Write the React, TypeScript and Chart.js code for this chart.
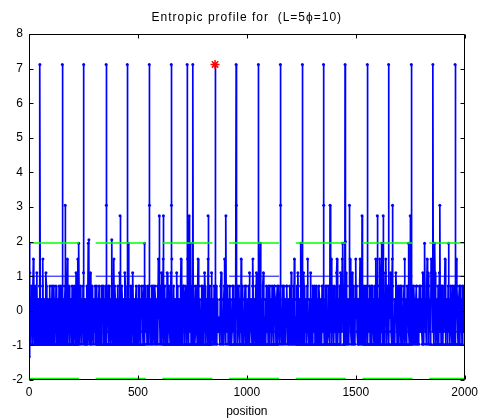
import React, { useEffect, useRef } from 'react';
import { Chart, registerables } from 'chart.js';

Chart.register(...registerables);

const titleText = 'Entropic profile for  (L=5\u03D5=10)';
const xLabel = 'position';
const xTicks = [0, 500, 1000, 1500, 2000];
const yTicks = [-2, -1, 0, 1, 2, 3, 4, 5, 6, 7, 8];

// level codes used in the dense band
const levelCodes = ['z', 'a', 'b', 'c', 'd', 'e', 'f', 'g', 'h'];
const levelValues = [-1.33, -0.97, -0.6, -0.2, 0.33, 0.72, 1.1, 1.5, 1.95];

// each row spans 200 positions
const bandRows = [
  'zhfadbecadgdbaedacfadbdaedacbdaegbadcadfeadbacdaeb' + 'dacebdaecadbeadcdabedcaedbaecdbadecabdgadcebadcdae',
  'adcaedbafadcgahdbaedcadbefadcadbaeadhcbdafdacedbad' + 'cbeadecadbdeacbdaecdeabdcaedbadceaedbcadebadcgaedb',
  'cadbeadcfadbaedacdbafeadbadchadcaedbaefdacbdadecab' + 'daeecbadcedbadecaebdcadebaecdabdeacedbaedcabdeagcd',
  'daecfadbgadceadbafdacedbadfcgadbeadcadbfaecdabdaeg' + 'bdaceedbaecdabgdcaebdhacdebaedcabedcadgbeadcbaedce',
  'adbfecadbdagcadeadbfacdbaedcabeadcbbcbadefadbcadeg' + 'cdabedeacdbeadcabedecadbaedceabdecadbgcaedbacdeaeb',
  'cadbeafadcdbaegdadcbeafdacdbaedhcadbaefdacbdaedbca' + 'edaecbdaecdbaeedcabdeacedbadecabedaecbdadeecabdaec',
  'dafcadbeagdacbdeafdbcadehadcbafeadcbdaegdbacdafcbd' + 'aecbdeadcebadcaedbacdaebedcadbeaceaabecdadbgaecdb',
  'aedbcafgdacbdeafdbcgheadbcadfeadbcadegdbacfdaebcad' + 'gcebdadcaegbdacdebaecdabecdeadbceadbeaecdbadecgadb',
  'beadcgfadbhdaecadbfgdaecdbaedcfbadgeacbdadfecadbea' + 'cdebaedcabdegacdbaecdhbadcebadecaedbcadeeabdcaedbe',
  'cdbafeadhdbcaegdfaecbdagfdebcadhfeadcbaedafcbdaece' + 'adbcegadbdcaehbdacedbaecdaebdcagedbacdeaebdcaedbce',
];

// tall peaks (position, value)
const peakPositions = [
  50, 153, 251, 354, 451, 552, 653, 726, 752, 854, 951, 1053, 1154, 1255, 1352, 1451, 1553, 1651, 1755, 1854, 1956,
  166, 355, 553, 654, 952, 1155, 1353, 1382, 1471, 1669, 1886,
  418, 598, 617, 735, 822, 904, 1529, 1599, 1626, 1750,
  275, 380, 530, 1452,
];
const peakValues = [
  7.12, 7.12, 7.12, 7.12, 7.12, 7.12, 7.12, 7.12, 7.12, 7.12, 7.12, 7.12, 7.12, 7.12, 7.12, 7.12, 7.12, 7.12, 7.12, 7.12, 7.12,
  3.05, 3.05, 3.05, 3.05, 3.05, 3.05, 3.05, 3.05, 3.05, 3.05, 3.05,
  2.75, 2.75, 2.75, 2.75, 2.75, 2.75, 2.75, 2.75, 2.75, 2.75,
  2.05, 2.05, 1.95, 2.0,
];

const markerPosition = 854;
const markerValue = 7.12;

const greenLevels = [1.96, -1.96];
const blueLevels = [1, -1];

function buildPoints() {
  const pts: { x: number; y: number }[] = [];
  bandRows.forEach((row, r) => {
    for (let j = 0; j < row.length; j++) {
      pts.push({ x: r * 200 + (j * 200) / row.length, y: levelValues[levelCodes.indexOf(row[j])] });
    }
  });
  peakPositions.forEach((p, i) => pts.push({ x: p, y: peakValues[i] }));
  pts.sort((a, b) => a.x - b.x);
  return pts;
}

const FONT = '"Liberation Sans", Arial, Helvetica, sans-serif';

const framePlugin = {
  id: 'frame',
  afterDatasetsDraw(chart: any) {
    const { ctx, chartArea } = chart;
    const { left, right, top, bottom } = chartArea;
    const xs = chart.scales.x;
    const ys = chart.scales.y;
    ctx.save();
    ctx.strokeStyle = '#000';
    ctx.lineWidth = 1;
    const L = Math.round(left) + 0.5;
    const R = Math.round(right) - 0.5;
    const T = Math.round(top) + 0.5;
    const B = Math.round(bottom) - 0.5;
    ctx.beginPath();
    ctx.rect(L, T, R - L, B - T);
    const tl = 4;
    xTicks.forEach((v) => {
      const px = Math.round(xs.getPixelForValue(v)) + 0.5;
      ctx.moveTo(px, B);
      ctx.lineTo(px, B - tl);
      ctx.moveTo(px, T);
      ctx.lineTo(px, T + tl);
    });
    yTicks.forEach((v) => {
      const py = Math.round(ys.getPixelForValue(v)) + 0.5;
      ctx.moveTo(L, py);
      ctx.lineTo(L + tl, py);
      ctx.moveTo(R, py);
      ctx.lineTo(R - tl, py);
    });
    ctx.stroke();
    ctx.restore();
  },
  afterDraw(chart: any) {
    const { ctx, chartArea } = chart;
    ctx.save();
    ctx.fillStyle = '#000';
    ctx.font = '12px ' + FONT;
    (ctx as any).letterSpacing = '1px';
    ctx.textAlign = 'center';
    ctx.textBaseline = 'middle';
    ctx.fillText(titleText, (chartArea.left + chartArea.right) / 2, 17.5);
    ctx.restore();
  },
};

export default function App() {
  const ref = useRef<HTMLCanvasElement | null>(null);
  useEffect(() => {
    document.body.style.margin = '0';
    const canvas = ref.current;
    if (!canvas) return;
    const points = buildPoints();
    const hLine = (yv: number) => [
      { x: xTicks[0], y: yv },
      { x: xTicks[xTicks.length - 1], y: yv },
    ];
    const dash = [50, 16.7];
    const chart = new Chart(canvas, {
      type: 'line',
      data: {
        datasets: [
          {
            label: 'max',
            data: [{ x: markerPosition, y: markerValue }],
            showLine: false,
            pointStyle: 'star',
            pointRadius: 4.5,
            borderColor: '#ff0000',
            backgroundColor: '#ff0000',
            pointBorderWidth: 1.5,
          },
          ...greenLevels.map((g) => ({
            label: 'g' + g,
            data: hLine(g),
            borderColor: '#00ff00',
            borderWidth: 1.5,
            borderDash: dash,
            pointRadius: 0,
          })),
          ...blueLevels.map((b) => ({
            label: 'b' + b,
            data: hLine(b),
            borderColor: '#0000ff',
            borderWidth: 1,
            borderDash: dash,
            pointRadius: 0,
          })),
          {
            label: 'profile',
            data: points,
            borderColor: '#0000ff',
            borderWidth: 1.7,
            pointRadius: 1.5,
            pointBorderWidth: 0,
            pointBackgroundColor: '#0000ff',
            tension: 0,
          },
        ],
      },
      options: {
        animation: false,
        responsive: false,
        devicePixelRatio: 1,
        events: [],
        layout: { padding: { top: 34, right: 16, left: 0, bottom: 0 } },
        plugins: {
          legend: { display: false },
          tooltip: { enabled: false },
          title: { display: false },
        },
        scales: {
          x: {
            type: 'linear',
            min: 0,
            max: 2000,
            afterBuildTicks: (s: any) => {
              s.ticks = xTicks.map((v) => ({ value: v }));
            },
            afterFit: (s: any) => {
              s.height = 39;
            },
            grid: { display: false, drawTicks: false },
            border: { display: false },
            ticks: {
              color: '#000',
              font: { family: FONT, size: 12 },
              padding: 5,
              maxRotation: 0,
              autoSkip: false,
              callback: (v: any) => String(v),
            },
            title: {
              display: true,
              text: xLabel,
              color: '#000',
              font: { family: FONT, size: 12 },
              padding: { top: 0, bottom: 0 },
            },
          },
          y: {
            type: 'linear',
            min: -2,
            max: 8,
            afterBuildTicks: (s: any) => {
              s.ticks = yTicks.map((v) => ({ value: v }));
            },
            afterFit: (s: any) => {
              s.width = 29;
            },
            grid: { display: false, drawTicks: false },
            border: { display: false },
            ticks: {
              color: '#000',
              font: { family: FONT, size: 12 },
              padding: 6,
              autoSkip: false,
              callback: (v: any) => String(v),
            },
          },
        },
      },
      plugins: [framePlugin],
    } as any);
    return () => chart.destroy();
  }, []);
  return <canvas ref={ref} width={483} height={419} style={{ display: 'block' }} />;
}
